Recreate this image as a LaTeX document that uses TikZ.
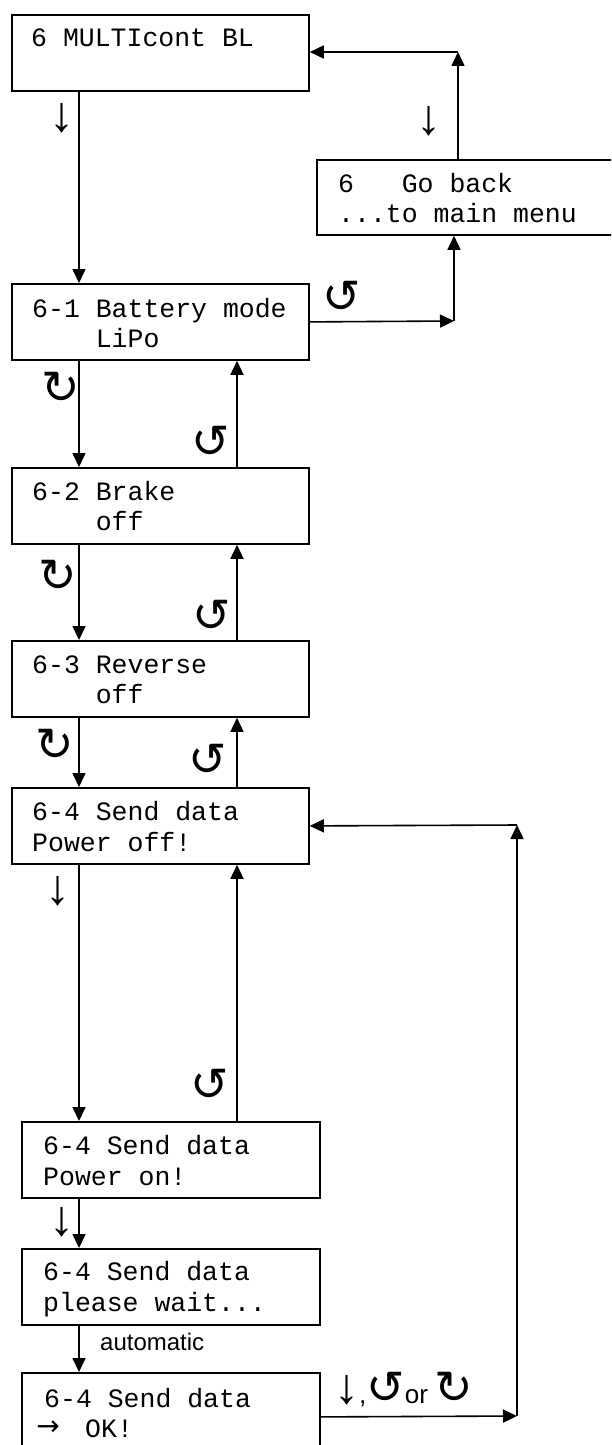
\documentclass[tikz,border=0pt]{standalone}
\usepackage{fontspec}
\setmainfont{Liberation Sans}
\newfontfamily\monof{Liberation Mono}
\newfontfamily\symf{DejaVu Sans}
\usetikzlibrary{arrows.meta}
\newcommand\bigsym[1]{\makebox[38.5pt]{\symf\fontsize{46}{50}\selectfont #1}}
\newcommand\downsym{\makebox[25pt]{\fontsize{50}{54}\selectfont ↓}}
\begin{document}
\begin{tikzpicture}[x=1pt,y=-1pt,
 box/.style={draw,line width=1.8pt,anchor=north west,inner sep=0pt},
 mainbox/.style={box,minimum width=297pt,minimum height=76pt},
 lowbox/.style={box,minimum width=298pt,minimum height=76pt},
 txt/.style={anchor=base west,inner sep=0pt,font=\monof\fontsize{26.5}{30}\selectfont},
 sym/.style={inner sep=0pt,font=\symf\fontsize{46}{50}\selectfont},
 dsym/.style={inner sep=0pt,font=\fontsize{50}{54}\selectfont},
 lbl/.style={anchor=base west,inner sep=0pt,font=\fontsize{24}{28}\selectfont},
 arr/.style={line width=1.6pt,-{Triangle[length=14pt,width=13pt]}}]
\clip (0,0) rectangle (611,1445);
\fill[white] (0,0) rectangle (611,1445);

% boxes
\node[mainbox] (b1)  at (11,14)  {};
\node[box,minimum width=296pt,minimum height=75pt] (back) at (316,159) {};
\node[mainbox] (b61) at (11,283) {};
\node[mainbox] (b62) at (11,467) {};
\node[mainbox] (b63) at (11,640) {};
\node[mainbox] (b64) at (11,787) {};
\node[lowbox]  (bon) at (21,1121) {};
\node[lowbox]  (bwait) at (21,1248) {};
\node[box,minimum width=298pt,minimum height=88pt] (bok) at (21,1372) {};

% texts
\node[txt] (t1)  at (31,47)   {6 MULTIcont BL};
\node[txt] (tba) at (338,192) {6\hphantom{000}Go back};
\node[txt] (tbb) at (338,222) {...to main menu};
\node[txt] (t61a) at (32,317) {6-1 Battery mode};
\node[txt] (t61b) at (32,347) {\hphantom{0000}LiPo};
\node[txt] (t62a) at (32,500) {6-2 Brake};
\node[txt] (t62b) at (32,530) {\hphantom{0000}off};
\node[txt] (t63a) at (32,673) {6-3 Reverse};
\node[txt] (t63b) at (32,703) {\hphantom{0000}off};
\node[txt] (t64a) at (32,820) {6-4 Send data};
\node[txt] (t64b) at (32,851) {Power off!};
\node[txt] (tona) at (43,1154) {6-4 Send data};
\node[txt] (tonb) at (43,1185) {Power on!};
\node[txt] (twa) at (43,1280) {6-4 Send data};
\node[txt] (twb) at (43,1311) {please wait...};
\node[txt] (toka) at (44,1407) {6-4 Send data};
\node[inner sep=0pt,font=\symf\fontsize{28}{32}\selectfont] (tokarr) at (48,1428) {→};
\node[txt] (tokb) at (85,1437) {OK!};

% symbols
\node[dsym] (s1) at (62,118) {↓};
\node[dsym] (s2) at (429,121) {↓};
\node[sym] (s3) at (342,297) {↺};
\node[sym] (s4) at (61,388) {↻};
\node[sym] (s5) at (211,442) {↺};
\node[sym] (s6) at (58,576) {↻};
\node[sym] (s7) at (212,616) {↺};
\node[sym] (s8) at (55,745) {↻};
\node[sym] (s9) at (208,760) {↺};
\node[dsym] (s10) at (58,891) {↓};
\node[sym] (s11) at (210,1085) {↺};
\node[dsym] (s12) at (62,1222) {↓};
\node[lbl] (auto) at (100,1350) {automatic};
\node[lbl,font=\fontsize{26}{30}\selectfont] (keys) at (334,1403) {\downsym,\bigsym{↺}or\hspace{6pt}\bigsym{↻}};

% corner coordinates
\coordinate (c1) at (454,321);
\coordinate (c2) at (458,52);
\coordinate (c3) at (517,1416);
\coordinate (c4) at (517,825);

% connectors
\draw[arr] ([xshift=68pt]b1.south west) -- ([xshift=68pt]b1.south west |- b61.north);
\draw[arr] (b61.east) -- (c1);
\draw[arr] (c1) -- (c1 |- back.south);
\draw[arr] (c2 |- back.north) -- (c2);
\draw[arr] (c2) -- (c2 -| b1.east);

\draw[arr] ([xshift=68pt]b61.south west) -- ([xshift=68pt]b61.south west |- b62.north);
\draw[arr] ([xshift=226pt]b62.north west) -- ([xshift=226pt]b62.north west |- b61.south);
\draw[arr] ([xshift=68pt]b62.south west) -- ([xshift=68pt]b62.south west |- b63.north);
\draw[arr] ([xshift=226pt]b63.north west) -- ([xshift=226pt]b63.north west |- b62.south);
\draw[arr] ([xshift=68pt]b63.south west) -- ([xshift=68pt]b63.south west |- b64.north);
\draw[arr] ([xshift=226pt]b64.north west) -- ([xshift=226pt]b64.north west |- b63.south);
\draw[arr] ([xshift=68pt]b64.south west) -- ([xshift=68pt]b64.south west |- bon.north);
\draw[arr] ([xshift=226pt]bon.north -| b64.west) -- ([xshift=226pt]b64.south west);
\draw[arr] ([xshift=58pt]bon.south west) -- ([xshift=58pt]bon.south west |- bwait.north);
\draw[arr] ([xshift=58pt]bwait.south west) -- ([xshift=58pt]bwait.south west |- bok.north);

\draw[arr] (bok.east) -- (c3);
\draw[arr] (c3) -- (c4);
\draw[arr] (c4) -- (b64.east);
\end{tikzpicture}
\end{document}
